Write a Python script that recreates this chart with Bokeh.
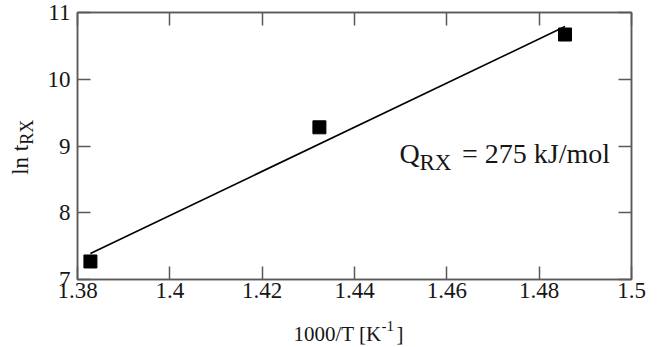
import math
from bokeh.plotting import figure
from bokeh.layouts import row, column
from bokeh.models import Label, LinearAxis, FixedTicker, ColumnDataSource
from bokeh.embed import file_html
from bokeh.resources import INLINE

# ---- data ----
inv_T = [1.3828, 1.4324, 1.4856]          # 1000/T [1/K]
ln_t = [7.27, 9.28, 10.67]                 # ln t_RX
fit_x = [1.3828, 1.4856]                   # Arrhenius fit line ends
fit_y = [7.39, 10.79]
x_ticks = [1.38, 1.40, 1.42, 1.44, 1.46, 1.48, 1.50]
x_tick_labels = ["1.38", "1.4", "1.42", "1.44", "1.46", "1.48", "1.5"]
y_ticks = [7, 8, 9, 10, 11]
y_tick_labels = ["7", "8", "9", "10", "11"]

X0, X1 = 1.38, 1.50
Y0, Y1 = 7.0, 11.0

# ---- layout (page pixels) ----
W = 660                 # total width
YLAB_W = 44             # strip holding the y-axis title
MAIN_H = 310            # main figure height
XLAB_H = 35             # strip holding the x-axis title
FL, FR, FT, FB = 72, 631, 12, 279   # frame edges on the page

def dx(px):
    return X0 + (px - FL) * (X1 - X0) / (FR - FL)
def dy(py):
    return Y1 - (py - FT) * (Y1 - Y0) / (FB - FT)

FONT = "Liberation Serif"
FRAME = "#5a5a5a"
TXT = "#161616"

p = figure(width=W - YLAB_W, height=MAIN_H, x_range=(X0, X1), y_range=(Y0, Y1),
           output_backend="svg", toolbar_location=None,
           x_axis_location=None, y_axis_location=None,
           min_border_left=FL - YLAB_W, min_border_right=W - FR,
           min_border_top=FT, min_border_bottom=MAIN_H - FB)
p.grid.visible = False
p.outline_line_color = FRAME
p.outline_line_width = 1.5
p.background_fill_color = "white"
p.border_fill_color = "white"

def make_axis(ticks, labels, show_labels, standoff):
    ax = LinearAxis(ticker=FixedTicker(ticks=ticks))
    ax.major_label_overrides = {t: l for t, l in zip(ticks, labels)}
    ax.axis_line_color = FRAME
    ax.axis_line_width = 1.5
    ax.major_tick_line_color = FRAME
    ax.major_tick_line_width = 1.5
    ax.major_tick_in = 13
    ax.major_tick_out = 0
    ax.minor_tick_line_color = None
    ax.major_label_standoff = standoff
    ax.major_label_text_font = FONT
    if show_labels:
        ax.major_label_text_font_size = "23px"
        ax.major_label_text_color = TXT
    else:
        ax.major_label_text_font_size = "0px"
        ax.major_label_text_color = None
    return ax

p.add_layout(make_axis(x_ticks, x_tick_labels, True, 3), "below")
p.add_layout(make_axis(y_ticks, y_tick_labels, True, 7), "left")
p.add_layout(make_axis(x_ticks, x_tick_labels, False, 0), "above")
p.add_layout(make_axis(y_ticks, y_tick_labels, False, 0), "right")

# fit line and data points
p.line(fit_x, fit_y, line_color="black", line_width=1.6)
src = ColumnDataSource(dict(x=inv_T, y=ln_t))
p.scatter("x", "y", source=src, marker="square", size=13,
          fill_color="black", line_color="black")

def lab(fig, x, y, text, size, angle=0.0, align="left", baseline="alphabetic"):
    fig.add_layout(Label(x=x, y=y, x_units="data", y_units="data", text=text,
                         text_font=FONT, text_font_size=size,
                         text_color=TXT, text_align=align,
                         text_baseline=baseline, angle=angle))

# annotation Q_RX = 275 kJ/mol (inside the frame)
lab(p, dx(397), dy(153), "Q", "28px")
lab(p, dx(417), dy(162), "RX", "23px")
lab(p, dx(460), dy(153), "= 275 kJ/mol", "28px")

def strip(w, h):
    f = figure(width=w, height=h, x_range=(0, w), y_range=(0, h),
               output_backend="svg", toolbar_location=None,
               x_axis_location=None, y_axis_location=None,
               min_border_left=0, min_border_right=0,
               min_border_top=0, min_border_bottom=0)
    f.grid.visible = False
    f.outline_line_color = None
    f.background_fill_color = "white"
    f.border_fill_color = "white"
    return f

# y axis title ln t_RX (rotated); coordinates are strip pixels, y upward
ys = strip(YLAB_W, MAIN_H)
lab(ys, 20, MAIN_H - 171, "ln t", "23px", angle=math.pi / 2,
    align="center", baseline="middle")
lab(ys, 26, MAIN_H - 139, "RX", "18px", angle=math.pi / 2,
    align="center", baseline="middle")

# x axis title 1000/T [K^-1]
xs = strip(W, XLAB_H)
top = MAIN_H + XLAB_H
lab(xs, 293, top - 333, "1000/T [K", "21px")
lab(xs, 381, top - 325, "-1", "15px")
lab(xs, 396, top - 333, "]", "21px")

layout = column(row(ys, p, spacing=0), xs, spacing=0)
open("out.html", "w").write(file_html(layout, INLINE))
